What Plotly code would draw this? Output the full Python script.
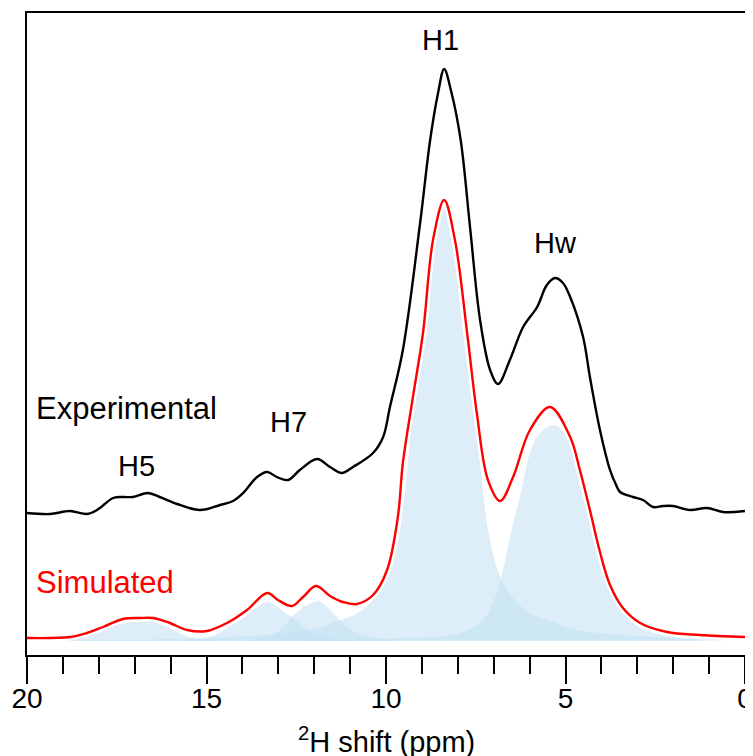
import plotly.graph_objects as go

# ---- Experimental spectrum (ppm, intensity a.u.) ----
exp_ppm = [20.00, 19.36, 18.80, 18.33, 18.05, 17.60, 17.33, 17.05, 16.63, 16.30, 15.82, 15.18,
           14.62, 14.26, 13.98, 13.59, 13.31, 13.04, 12.73, 12.40, 11.92, 11.56, 11.23, 10.92,
           10.36, 10.08, 9.89, 9.53, 9.05, 8.77, 8.55, 8.38, 8.18, 7.92, 7.66, 7.38, 7.10,
           6.88, 6.55, 6.18, 5.79, 5.52, 5.29, 5.07, 4.87, 4.51, 4.32, 4.04, 3.76, 3.59, 3.48,
           3.12, 2.84, 2.56, 2.29, 2.01, 1.53, 1.06, 0.61, 0.00]
exp_int = [142, 141, 144, 141, 145, 157, 158, 158, 162, 158, 151, 145,
           150, 154, 162, 178, 183, 178, 175, 185, 196, 188, 182, 188,
           202, 218, 248, 305, 432, 515, 562, 586, 563, 515, 428, 335, 285,
           271, 295, 328, 348, 370, 377, 372, 358, 318, 278, 225, 185, 170, 163,
           158, 155, 148, 149, 149, 145, 147, 143, 144]

# ---- Simulated spectrum ----
sim_ppm = [20.00, 18.80, 18.33, 17.88, 17.33, 16.85, 16.49, 16.02, 15.54, 14.99, 14.43, 13.87,
           13.31, 13.01, 12.62, 12.31, 11.95, 11.56, 11.20, 10.81, 10.36, 9.97, 9.67, 9.53,
           9.25, 8.97, 8.69, 8.38, 8.08, 7.74, 7.47, 7.16, 6.82, 6.46, 5.99, 5.43, 4.87,
           4.60, 4.32, 4.04, 3.76, 3.40, 2.92, 2.17, 1.25, 0.00]
sim_int = [17, 18, 22, 28, 36, 37, 37, 32, 25, 24, 32, 45,
           62, 55, 49, 58, 69, 59, 53, 51, 60, 85, 138, 192,
           258, 322, 415, 455, 415, 322, 242, 175, 154, 178, 225, 248, 218,
           185, 145, 103, 70, 47, 32, 23, 20, 18]

# ---- Fitted components (shaded) ----
h5_ppm = [20.00, 18.80, 18.38, 18.05, 17.69, 17.27, 16.85, 16.43, 16.16, 15.82, 15.46, 14.90, 13.51]
h5_int = [14, 15, 18, 22, 29, 32, 33, 33, 29, 23, 18, 15, 14]

h7a_ppm = [15.74, 15.18, 14.76, 14.43, 14.15, 13.87, 13.59, 13.31, 13.09, 12.87, 12.62, 12.34,
           11.98, 11.42, 10.45]
h7a_int = [14, 16, 20, 27, 33, 40, 48, 53, 50, 44, 38, 29, 21, 16, 14]

h7b_ppm = [14.07, 13.37, 12.95, 12.62, 12.34, 12.09, 11.89, 11.70, 11.42, 11.14, 10.81, 10.31, 9.61]
h7b_int = [14, 17, 25, 38, 47, 52, 54, 50, 40, 30, 22, 17, 14]

h1_ppm = [20.00, 17.41, 14.96, 13.01, 12.09, 11.34, 10.78, 10.36, 9.94, 9.61, 9.39, 9.28, 9.08,
          8.89, 8.69, 8.52, 8.38, 8.25, 8.08, 7.88, 7.69, 7.49, 7.38, 7.16, 6.82, 6.41, 5.99,
          5.43, 4.68, 3.76, 1.81, 0.00]
h1_int = [14, 15, 17, 21, 25, 34, 42, 55, 78, 125, 192, 235, 280,
          330, 393, 433, 448, 433, 393, 330, 280, 235, 192, 125, 78, 55, 42,
          34, 25, 21, 17, 15]

hw_ppm = [12.40, 9.53, 8.13, 7.38, 7.02, 6.74, 6.55, 6.27, 5.99, 5.71, 5.29, 4.87, 4.60, 4.32,
          4.04, 3.76, 3.40, 2.92, 2.17, 1.25, 0.00]
hw_int = [14, 17, 20, 32, 52, 85, 118, 158, 202, 222, 230, 212, 178, 138,
          97, 65, 42, 27, 19, 15, 14]

components = [(h5_ppm, h5_int), (h7a_ppm, h7a_int), (h7b_ppm, h7b_int),
              (h1_ppm, h1_int), (hw_ppm, hw_int)]

peak_labels = [("H1", 8.48, 615), ("Hw", 5.27, 412), ("H7", 12.72, 233), ("H5", 16.94, 189)]
tick_vals = [20, 15, 10, 5, 0]
tick_text = ["20", "15", "10", "5", "0"]

fill_color = "rgba(194,225,242,0.56)"
FONT = "Liberation Sans, Arial, sans-serif"

fig = go.Figure()
for xs, ys in components:
    fig.add_trace(go.Scatter(x=xs, y=ys, mode="lines", fill="toself",
                             fillcolor=fill_color,
                             line=dict(width=0, shape="spline", smoothing=0.9),
                             hoverinfo="skip", showlegend=False))

# white halo under simulated line
fig.add_trace(go.Scatter(x=sim_ppm, y=sim_int, mode="lines",
                         line=dict(color="white", width=7, shape="spline", smoothing=1.0),
                         showlegend=False, hoverinfo="skip"))
fig.add_trace(go.Scatter(x=sim_ppm, y=sim_int, mode="lines", name="Simulated",
                         line=dict(color="#ff0000", width=2.4, shape="spline", smoothing=1.0),
                         showlegend=False))
fig.add_trace(go.Scatter(x=exp_ppm, y=exp_int, mode="lines", name="Experimental",
                         line=dict(color="black", width=2.4, shape="spline", smoothing=1.0),
                         showlegend=False))

for txt, x, y in peak_labels:
    fig.add_annotation(x=x, y=y, text=txt, showarrow=False,
                       font=dict(family=FONT, size=29, color="black"))
fig.add_annotation(x=19.80, y=247, text="Experimental", showarrow=False, xanchor="left",
                   font=dict(family=FONT, size=31, color="black"))
fig.add_annotation(x=19.80, y=73, text="Simulated", showarrow=False, xanchor="left",
                   font=dict(family=FONT, size=31, color="#ff0000"))
# axis title
fig.add_annotation(x=0.5, xref="paper", y=-0.1324, yref="paper",
                   text="<sup>2</sup>H shift (ppm)",
                   showarrow=False, yanchor="middle",
                   font=dict(family=FONT, size=29, color="black"))

# page body has an 8px default margin: figure is sized/offset to compensate
fig.update_layout(
    width=745, height=748,
    margin=dict(l=19, r=8, t=5, b=101, autoexpand=False),
    plot_bgcolor="white", paper_bgcolor="white",
    font=dict(family=FONT, size=28, color="black"),
)
fig.update_xaxes(range=[20, 0], showgrid=False, zeroline=False, automargin=False,
                 showline=True, linecolor="black", linewidth=2, mirror=True,
                 ticks="outside", tickmode="array", tickvals=tick_vals, ticktext=tick_text,
                 ticklen=27, tickwidth=2, tickcolor="black", ticklabelstandoff=-10,
                 tickfont=dict(family=FONT, size=28, color="black"),
                 minor=dict(ticks="outside", dtick=1, tick0=0, ticklen=17, tickwidth=2,
                            tickcolor="black", showgrid=False))
fig.update_yaxes(range=[0, 642], showgrid=False, zeroline=False, automargin=False,
                 showline=True, linecolor="black", linewidth=2, mirror=True,
                 showticklabels=False, ticks="")

fig.write_html("out.html")
